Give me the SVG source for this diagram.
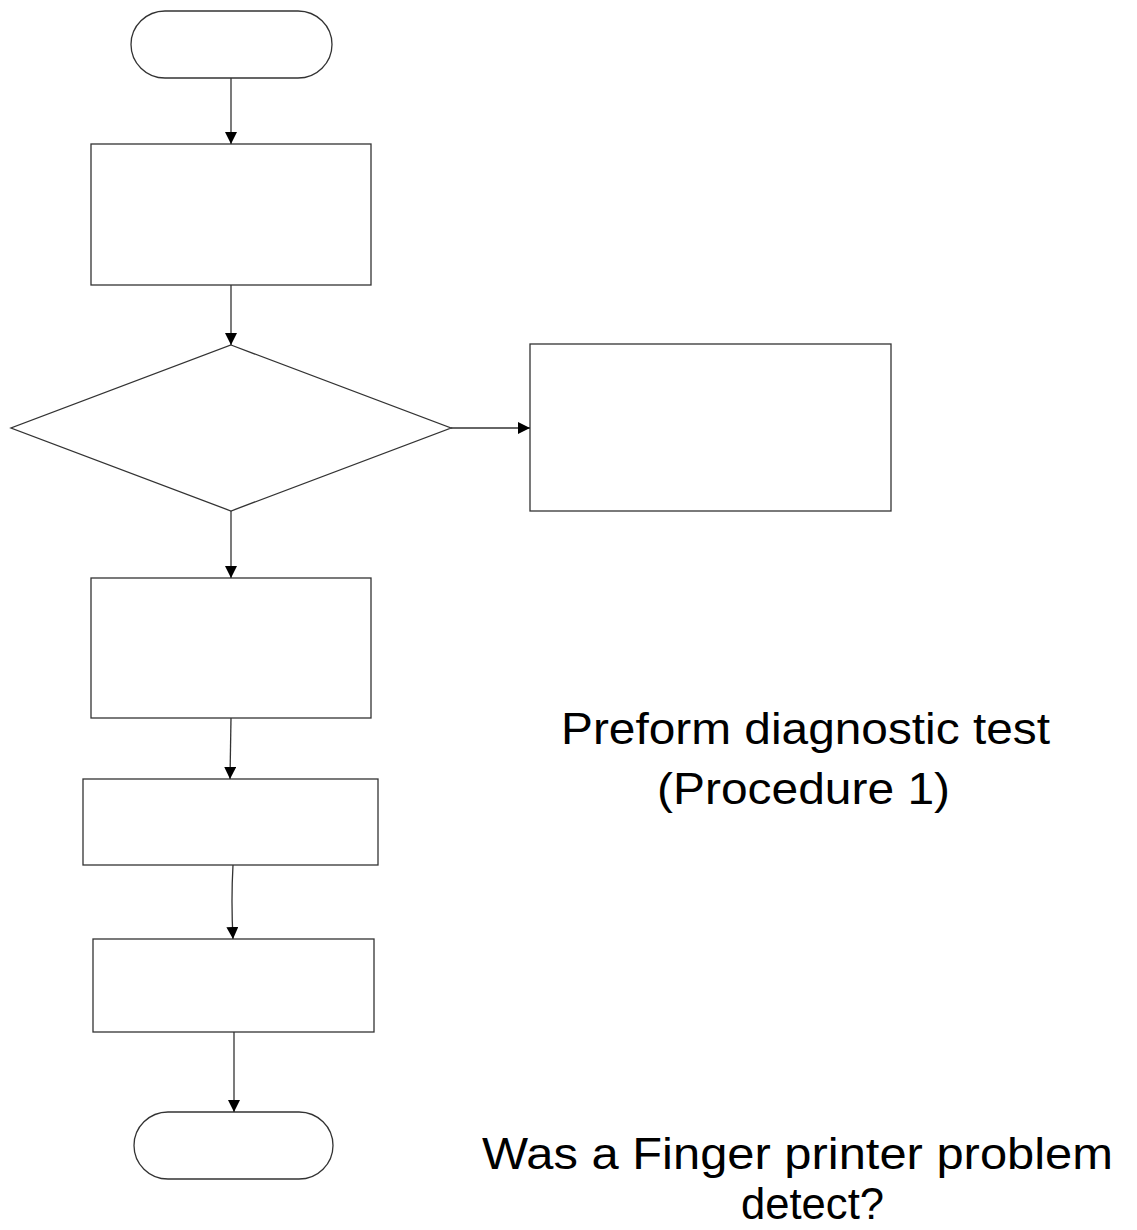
<svg xmlns="http://www.w3.org/2000/svg" width="1137" height="1230" viewBox="0 0 1137 1230">
<style>
.s{fill:#fff;stroke:#333;stroke-width:1.3}
.c{fill:none;stroke:#333;stroke-width:1.3}
.t{font-family:"Liberation Sans",Arial,sans-serif;font-size:44px;fill:#000}
</style>
<defs>
<marker id="ah" viewBox="0 0 12 12" refX="12" refY="6" markerWidth="12" markerHeight="12" markerUnits="userSpaceOnUse" orient="auto">
<path d="M0,0 L12,6 L0,12 Z" fill="#000"/>
</marker>
</defs>
<rect width="1137" height="1230" fill="#fff"/>
<g id="start"><rect class="s" x="131" y="11" width="201" height="67" rx="34" ry="34"/></g>
<g id="box1"><rect class="s" x="91" y="144" width="280" height="141"/></g>
<g id="decision"><polygon class="s" points="231,345 451,428 231,511 11,428"/></g>
<g id="boxRight"><rect class="s" x="530" y="344" width="361" height="167"/></g>
<g id="box3"><rect class="s" x="91" y="578" width="280" height="140"/></g>
<g id="box4"><rect class="s" x="83" y="779" width="295" height="86"/></g>
<g id="box5"><rect class="s" x="93" y="939" width="281" height="93"/></g>
<g id="end"><rect class="s" x="134" y="1112" width="199" height="67" rx="34" ry="34"/></g>
<g id="connectors">
<line class="c" x1="231" y1="78" x2="231" y2="144" marker-end="url(#ah)"/>
<line class="c" x1="231" y1="285" x2="231" y2="345" marker-end="url(#ah)"/>
<line class="c" x1="451" y1="428" x2="530" y2="428" marker-end="url(#ah)"/>
<line class="c" x1="231" y1="511" x2="231" y2="578" marker-end="url(#ah)"/>
<line class="c" x1="231" y1="718" x2="230" y2="779" marker-end="url(#ah)"/>
<path class="c" d="M233,865 Q231,900 233,939" marker-end="url(#ah)"/>
<line class="c" x1="234" y1="1032" x2="234" y2="1112" marker-end="url(#ah)"/>
</g>
<g id="labels">
<text class="t" x="561" y="744" textLength="489" lengthAdjust="spacingAndGlyphs">Preform diagnostic test</text>
<text class="t" x="657" y="804" textLength="293" lengthAdjust="spacingAndGlyphs">(Procedure 1)</text>
<text class="t" x="482" y="1169" textLength="631" lengthAdjust="spacingAndGlyphs">Was a Finger printer problem</text>
<text class="t" x="741" y="1219" textLength="143" lengthAdjust="spacingAndGlyphs">detect?</text>
</g>
</svg>
